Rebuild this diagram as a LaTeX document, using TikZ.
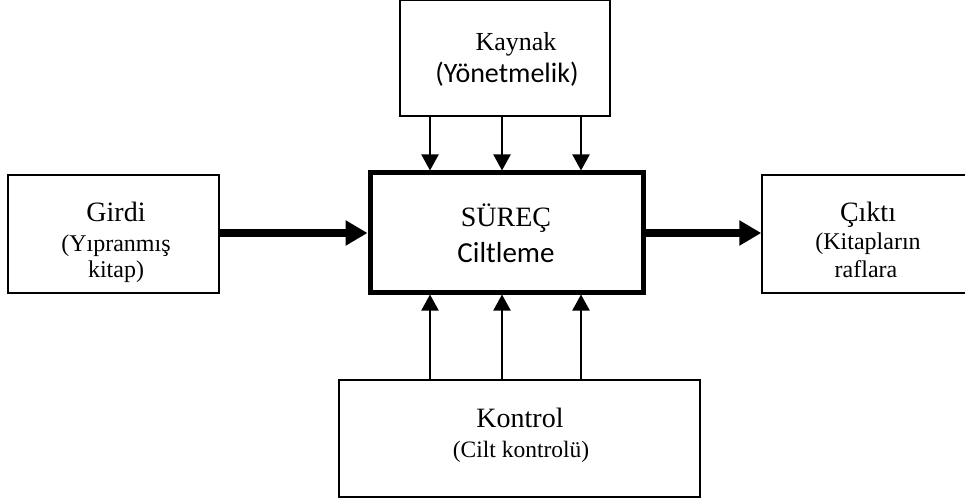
\documentclass[tikz,border=0pt]{standalone}
\usepackage{fontspec}
\setmainfont{Liberation Serif}
\newfontfamily\calibrifont{Carlito}
\usetikzlibrary{arrows.meta}

\begin{document}
\begin{tikzpicture}[x=1pt,y=-1pt,
    box/.style={draw,line width=1.5pt,inner sep=0pt},
    mainbox/.style={draw,line width=5pt,inner sep=0pt},
    title/.style={anchor=base,inner sep=0pt,font=\fontsize{28}{32}\selectfont},
    sub/.style={anchor=base,inner sep=0pt,font=\fontsize{24}{27}\selectfont},
    thinarrow/.style={line width=2pt,-{Triangle[length=16pt,width=17pt]}},
    thickarrow/.style={line width=8.5pt,-{Triangle[length=22pt,width=24pt]}}]
  \useasboundingbox (0,0) rectangle (965,502);

  % boxes
  \node[box,minimum width=210pt,minimum height=116pt] (kaynak) at (505,58) {};
  \node[box,minimum width=211pt,minimum height=118pt] (girdi) at (113.5,234) {};
  \node[mainbox,minimum width=273pt,minimum height=119pt] (surec) at (506.5,232.5) {};
  \node[box,minimum width=240pt,minimum height=118pt] (cikti) at (882,234) {};
  \node[box,minimum width=361pt,minimum height=117pt] (kontrol) at (519.5,438.5) {};

  % texts
  \node[title,font=\fontsize{26}{30}\selectfont] (kaynakT) at (516,51) {Kaynak};
  \node[title,font=\calibrifont\fontsize{28}{30}\selectfont] (kaynakS) at (507,83) {(Yönetmelik)};
  \node[title] (girdiT) at (116,222) {Girdi};
  \node[sub] (girdiS) at (116,252) {(Yıpranmış};
  \node[sub] (girdiS2) at (116,277) {kitap)};
  \node[title] (surecT) at (506,227) {SÜREÇ};
  \node[title,font=\calibrifont\fontsize{29}{32}\selectfont] (surecS) at (506,262) {Ciltleme};
  \node[title] (ciktiT) at (868,222) {Çıktı};
  \node[sub] (ciktiS) at (868,250) {(Kitapların};
  \node[sub] (ciktiS2) at (866,277) {raflara};
  \node[title] (kontrolT) at (520,427) {Kontrol};
  \node[sub,font=\fontsize{23.5}{27}\selectfont] (kontrolS) at (521,457) {(Cilt kontrolü)};

  % connectors
  \foreach \x in {430,502,581} {
    \draw[thinarrow] (kaynak.south -| \x,0) -- (surec.north -| \x,0);
    \draw[thinarrow] (kontrol.north -| \x,0) -- (surec.south -| \x,0);
  }
  \draw[thickarrow] (girdi.east |- 0,233) -- (surec.west |- 0,233);
  \draw[thickarrow] (surec.east |- 0,233) -- (cikti.west |- 0,233);
\end{tikzpicture}
\end{document}
